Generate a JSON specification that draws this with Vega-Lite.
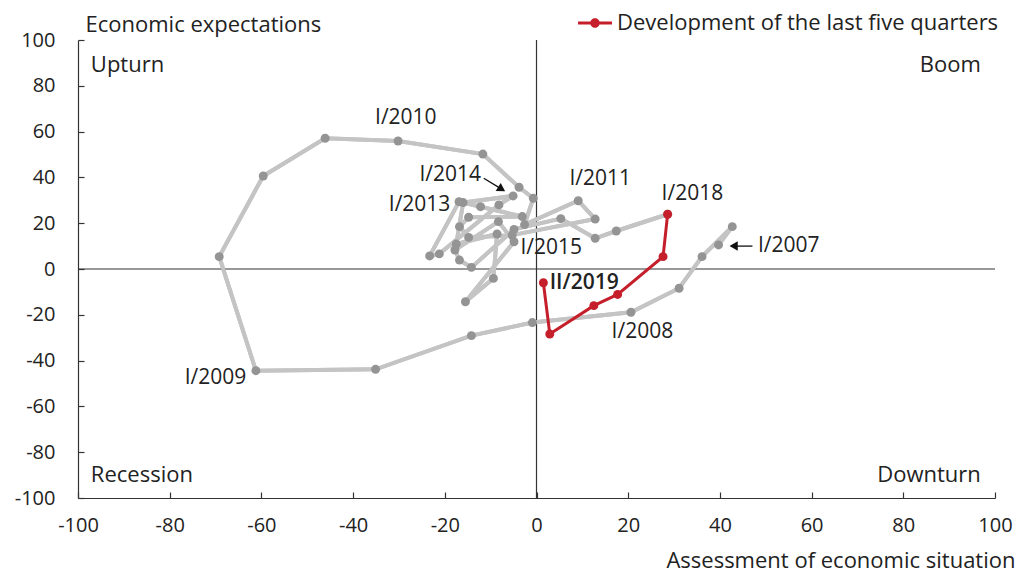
{
  "$schema": "https://vega.github.io/schema/vega-lite/v6.json",
  "width": 917,
  "height": 458,
  "autosize": {"type": "none"},
  "padding": {"left": 78, "top": 40, "right": 26, "bottom": 74},
  "background": "white",
  "config": {
    "font": "Open Sans",
    "view": {"stroke": null},
    "axis": {"grid": false, "domainColor": "#333333", "tickColor": "#333333", "labelColor": "#222222", "titleColor": "#222222", "labelFontSize": 20, "titleFontSize": 22, "titleFontWeight": "normal", "tickSize": -6, "domainWidth": 1.2, "tickWidth": 1.2, "labelFlush": false, "labelExpr": "toString(datum.value)"}
  },
  "datasets": {
    "gray": [
      {"i": 0, "x": 39.7, "y": 10.5}, {"i": 1, "x": 42.7, "y": 18.5}, {"i": 2, "x": 36.1, "y": 5.4},
      {"i": 3, "x": 31.1, "y": -8.4}, {"i": 4, "x": 20.6, "y": -18.9}, {"i": 5, "x": -0.9, "y": -23.4},
      {"i": 6, "x": -14.2, "y": -29.1}, {"i": 7, "x": -35.1, "y": -43.8}, {"i": 8, "x": -61.2, "y": -44.4},
      {"i": 9, "x": -69.2, "y": 5.4}, {"i": 10, "x": -59.6, "y": 40.6}, {"i": 11, "x": -46.1, "y": 57.1},
      {"i": 12, "x": -30.2, "y": 55.9}, {"i": 13, "x": -11.7, "y": 50.2}, {"i": 14, "x": -3.8, "y": 35.7},
      {"i": 15, "x": -0.7, "y": 30.9}, {"i": 16, "x": -2.6, "y": 19.4}, {"i": 17, "x": 9.1, "y": 29.8},
      {"i": 18, "x": 12.8, "y": 21.8}, {"i": 19, "x": -5.3, "y": 14.8}, {"i": 20, "x": -14.8, "y": 13.8},
      {"i": 21, "x": -16.8, "y": 18.5}, {"i": 22, "x": -14.8, "y": 22.6}, {"i": 23, "x": -3.1, "y": 22.9},
      {"i": 24, "x": -12.2, "y": 27.2}, {"i": 25, "x": -16.9, "y": 29.4}, {"i": 26, "x": -23.3, "y": 5.7},
      {"i": 27, "x": -21.2, "y": 6.6}, {"i": 28, "x": -8.2, "y": 28}, {"i": 29, "x": -5.1, "y": 31.9},
      {"i": 30, "x": -16, "y": 29}, {"i": 31, "x": -17.5, "y": 10.9}, {"i": 32, "x": -8.6, "y": 15.3},
      {"i": 33, "x": -9.4, "y": -4.1}, {"i": 34, "x": -15.5, "y": -14.3}, {"i": 35, "x": -4.9, "y": 11.9},
      {"i": 36, "x": -8.3, "y": 20.7}, {"i": 37, "x": -17.8, "y": 8.3}, {"i": 38, "x": -16.8, "y": 3.9},
      {"i": 39, "x": -14.2, "y": 0.7}, {"i": 40, "x": -4.9, "y": 17.3}, {"i": 41, "x": 5.3, "y": 22},
      {"i": 42, "x": 12.8, "y": 13.4}, {"i": 43, "x": 17.4, "y": 16.6}, {"i": 44, "x": 28.6, "y": 23.9}
    ],
    "red": [
      {"i": 0, "x": 28.6, "y": 23.9}, {"i": 1, "x": 27.6, "y": 5.4}, {"i": 2, "x": 17.7, "y": -11.1},
      {"i": 3, "x": 12.5, "y": -16}, {"i": 4, "x": 2.9, "y": -28.4}, {"i": 5, "x": 1.5, "y": -6}
    ],
    "labels": [
      {"label": "I/2010", "x": -28.5, "y": 65.9},
      {"label": "I/2014", "x": -18.8, "y": 41},
      {"label": "I/2013", "x": -25.5, "y": 27.9},
      {"label": "I/2011", "x": 13.9, "y": 39.3},
      {"label": "I/2018", "x": 34, "y": 32.8},
      {"label": "I/2015", "x": 3.2, "y": 9.2},
      {"label": "I/2008", "x": 23.1, "y": -27.5},
      {"label": "I/2007", "x": 55, "y": 10},
      {"label": "I/2009", "x": -70, "y": -47.6}
    ],
    "bold": [{"label": "II/2019", "x": 10.4, "y": -6.1}],
    "cornersL": [{"label": "Upturn", "x": -97.2, "y": 89}, {"label": "Recession", "x": -97.2, "y": -90}],
    "cornersR": [{"label": "Boom", "x": 96.9, "y": 89}, {"label": "Downturn", "x": 96.9, "y": -90}],
    "arrows": [{"x": -11.5, "y": 39.6, "x2": -7.6, "y2": 34.9}, {"x": 47.1, "y": 10, "x2": 43.0, "y2": 10}],
    "head14": [{"x": -7.6, "y": 34.9}],
    "head07": [{"x": 43.0, "y": 10}]
  },
  "layer": [
    {
      "data": {"name": "gray"},
      "mark": {"type": "line", "color": "#c4c4c4", "strokeWidth": 4},
      "encoding": {
        "x": {"field": "x", "type": "quantitative", "scale": {"domain": [-100, 100], "nice": false, "zero": false},
          "axis": {"values": [-100, -80, -60, -40, -20, 0, 20, 40, 60, 80, 100], "labelPadding": 23, "title": "Assessment of economic situation", "titleAnchor": "end", "titleAlign": "right", "titleBaseline": "alphabetic", "titleX": 937, "titleY": 69}},
        "y": {"field": "y", "type": "quantitative", "scale": {"domain": [-100, 100], "nice": false, "zero": false},
          "axis": {"values": [-100, -80, -60, -40, -20, 0, 20, 40, 60, 80, 100], "labelPadding": 29, "title": "Economic expectations", "titleAngle": 0, "titleAlign": "left", "titleAnchor": "start", "titleBaseline": "alphabetic", "titleX": 7, "titleY": -9}},
        "order": {"field": "i", "type": "quantitative"}
      }
    },
    {
      "data": {"values": [{"v": 0}]},
      "mark": {"type": "rule", "color": "#333333", "strokeWidth": 1.2},
      "encoding": {"x": {"datum": 0}}
    },
    {
      "data": {"values": [{"v": 0}]},
      "mark": {"type": "rule", "color": "#333333", "strokeWidth": 1.2},
      "encoding": {"y": {"datum": 0}}
    },
    {
      "data": {"name": "gray"},
      "mark": {"type": "line", "color": "#c4c4c4", "strokeWidth": 4},
      "encoding": {
        "x": {"field": "x", "type": "quantitative"},
        "y": {"field": "y", "type": "quantitative"},
        "order": {"field": "i", "type": "quantitative"}
      }
    },
    {
      "data": {"name": "gray"},
      "mark": {"type": "point", "filled": true, "color": "#949494", "size": 80, "opacity": 1},
      "encoding": {
        "x": {"field": "x", "type": "quantitative"},
        "y": {"field": "y", "type": "quantitative"}
      }
    },
    {
      "data": {"name": "red"},
      "mark": {"type": "line", "strokeWidth": 3},
      "encoding": {
        "x": {"field": "x", "type": "quantitative"},
        "y": {"field": "y", "type": "quantitative"},
        "order": {"field": "i", "type": "quantitative"},
        "color": {"datum": "Development of the last five quarters", "type": "nominal",
          "scale": {"domain": ["Development of the last five quarters"], "range": ["#c51f2b"]},
          "legend": {"orient": "none", "legendX": 500, "legendY": -34, "title": null, "labelFontSize": 22, "labelColor": "#222222", "labelLimit": 0,
            "symbolType": "M-1,-0.09H1V0.09H-1Z M-0.28,0A0.28,0.28 0 1,1 0.28,0A0.28,0.28 0 1,1 -0.28,0Z",
            "symbolSize": 1156, "labelOffset": 5, "symbolOpacity": 1,
            "encode": {"symbols": {"update": {"fill": {"value": "#c51f2b"}, "stroke": {"value": "#c51f2b"}, "strokeWidth": {"value": 0}}}}}}
      }
    },
    {
      "data": {"name": "red"},
      "mark": {"type": "point", "filled": true, "color": "#c51f2b", "size": 80, "opacity": 1},
      "encoding": {
        "x": {"field": "x", "type": "quantitative"},
        "y": {"field": "y", "type": "quantitative"}
      }
    },
    {
      "data": {"name": "arrows"},
      "mark": {"type": "rule", "color": "#111111", "strokeWidth": 1.3},
      "encoding": {
        "x": {"field": "x", "type": "quantitative"},
        "y": {"field": "y", "type": "quantitative"},
        "x2": {"field": "x2"},
        "y2": {"field": "y2"}
      }
    },
    {
      "data": {"name": "head14"},
      "mark": {"type": "point", "shape": "triangle-right", "filled": true, "color": "#111111", "size": 90, "opacity": 1, "angle": 32},
      "encoding": {"x": {"field": "x", "type": "quantitative"}, "y": {"field": "y", "type": "quantitative"}}
    },
    {
      "data": {"name": "head07"},
      "mark": {"type": "point", "shape": "triangle-left", "filled": true, "color": "#111111", "size": 90, "opacity": 1},
      "encoding": {"x": {"field": "x", "type": "quantitative"}, "y": {"field": "y", "type": "quantitative"}}
    },
    {
      "data": {"name": "labels"},
      "mark": {"type": "text", "fontSize": 21, "color": "#222222", "align": "center", "baseline": "middle"},
      "encoding": {"x": {"field": "x", "type": "quantitative"}, "y": {"field": "y", "type": "quantitative"}, "text": {"field": "label"}}
    },
    {
      "data": {"name": "bold"},
      "mark": {"type": "text", "fontSize": 21, "fontWeight": 600, "color": "#222222", "align": "center", "baseline": "middle"},
      "encoding": {"x": {"field": "x", "type": "quantitative"}, "y": {"field": "y", "type": "quantitative"}, "text": {"field": "label"}}
    },
    {
      "data": {"name": "cornersL"},
      "mark": {"type": "text", "fontSize": 22, "color": "#222222", "align": "left", "baseline": "middle"},
      "encoding": {"x": {"field": "x", "type": "quantitative"}, "y": {"field": "y", "type": "quantitative"}, "text": {"field": "label"}}
    },
    {
      "data": {"name": "cornersR"},
      "mark": {"type": "text", "fontSize": 22, "color": "#222222", "align": "right", "baseline": "middle"},
      "encoding": {"x": {"field": "x", "type": "quantitative"}, "y": {"field": "y", "type": "quantitative"}, "text": {"field": "label"}}
    }
  ]
}
